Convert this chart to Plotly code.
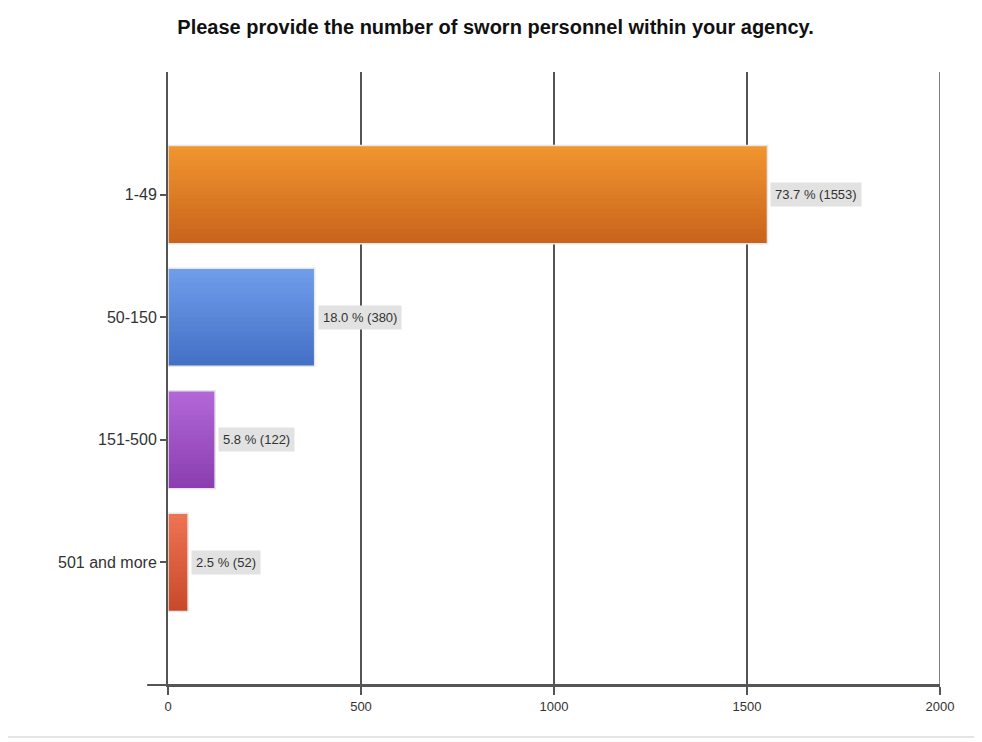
import plotly.graph_objects as go

categories = ["1-49", "50-150", "151-500", "501 and more"]
counts = [1553, 380, 122, 52]
percents = [73.7, 18.0, 5.8, 2.5]
x_ticks = [0, 500, 1000, 1500, 2000]

top_colors = ["#F0952F", "#709DEA", "#B267D8", "#EE7352"]
bottom_colors = ["#C9641C", "#4470C6", "#8A3EB0", "#C84A2A"]

def hex2rgb(h):
    h = h.lstrip("#")
    return tuple(int(h[i:i + 2], 16) for i in (0, 2, 4))

def mix(c1, c2, t):
    a, b = hex2rgb(c1), hex2rgb(c2)
    return "rgb(%d,%d,%d)" % tuple(round(a[i] + (b[i] - a[i]) * t) for i in range(3))

fig = go.Figure()
N = 20
W = 0.8
step = W / N
for k in range(N):
    t = k / (N - 1)
    wk = step * 2.2 if k < N - 1 else step
    fig.add_trace(go.Bar(
        x=counts, y=categories, orientation="h",
        width=min(wk, W - k * step), offset=-W / 2 + k * step,
        marker=dict(color=[mix(top_colors[i], bottom_colors[i], t) for i in range(len(categories))],
                    line=dict(width=0)),
        showlegend=False, hoverinfo="skip",
    ))
# border
fig.add_trace(go.Bar(
    x=counts, y=categories, orientation="h", width=W,
    marker=dict(color="rgba(0,0,0,0)", line=dict(color="#E6E6E6", width=1.5)),
    showlegend=False, hoverinfo="skip",
))

for c, n, p in zip(categories, counts, percents):
    fig.add_annotation(
        x=n, y=c, xref="x", yref="y", text=f"{p:.1f} % ({n})", showarrow=False,
        xanchor="left", xshift=3, bgcolor="#E2E2E2", borderpad=4,
        font=dict(family="Liberation Sans, Arial", size=13, color="#333333"),
    )

# right edge gridline at 2000
fig.add_shape(type="line", xref="x", yref="paper", x0=2000, x1=2000, y0=0, y1=1,
              line=dict(color="#555555", width=1.5), layer="below")
# x axis line extending left past 0
fig.add_shape(type="line", xref="paper", yref="paper", x0=-0.027, x1=1, y0=0, y1=0,
              line=dict(color="#555555", width=2))
# bottom separator
fig.add_shape(type="line", xref="paper", yref="paper", x0=-0.22, x1=1.08, y0=-0.085, y1=-0.085,
              line=dict(color="#DDDDDD", width=1.5))

fig.update_layout(
    width=982, height=742,
    margin=dict(l=160, r=50, t=64, b=65),
    paper_bgcolor="white", plot_bgcolor="white",
    barmode="overlay",
    title=dict(text="<b>Please provide the number of sworn personnel within your agency.</b>",
               x=0.4965, xanchor="center", xref="container", y=0.974, yanchor="middle",
               font=dict(family="Liberation Sans, Arial", size=20, color="#111111")),
    xaxis=dict(range=[0, 2000], tickvals=x_ticks, showgrid=True, gridcolor="#555555", gridwidth=1.5,
               zeroline=False, showline=True, linecolor="#555555", linewidth=2,
               ticks="outside", ticklen=8, tickcolor="#555555", tickwidth=1.5,
               tickfont=dict(family="Liberation Sans, Arial", size=13, color="#333333")),
    yaxis=dict(type="category", categoryarray=categories, range=[4, -1], showgrid=False,
               zeroline=False, showline=True, linecolor="#555555", linewidth=2,
               ticks="outside", ticklen=6, tickcolor="#555555", tickwidth=1.5,
               tickfont=dict(family="Liberation Sans, Arial", size=16, color="#333333")),
)

fig.write_html("out.html")
